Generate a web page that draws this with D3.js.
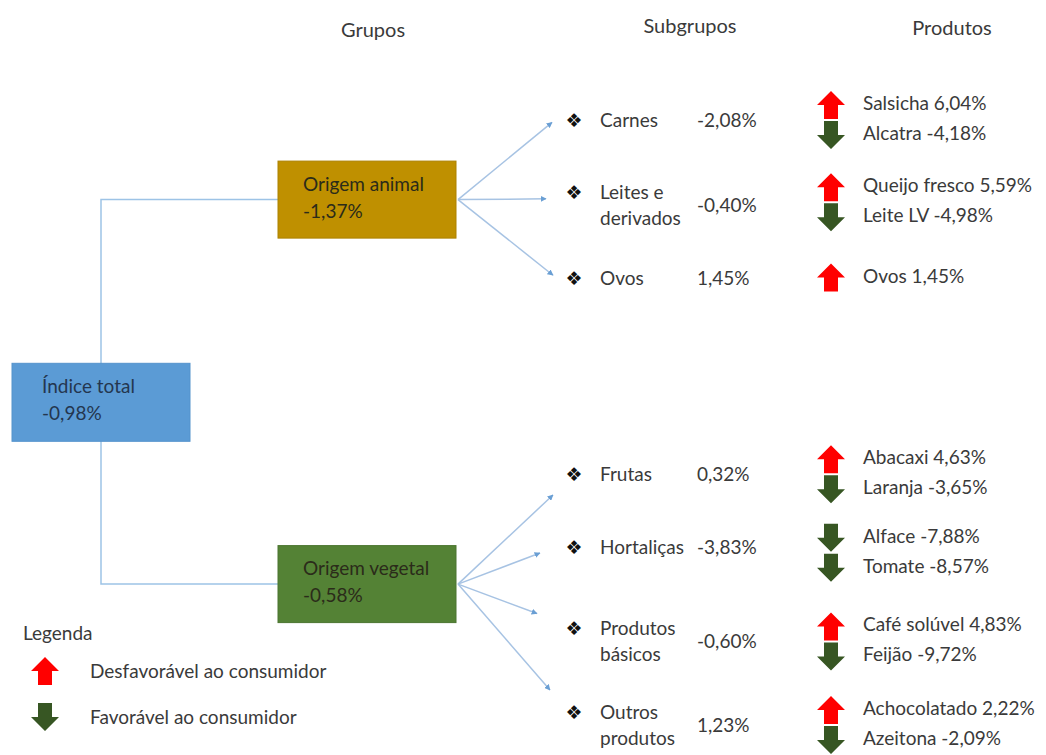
<!DOCTYPE html>
<html>
<head>
<meta charset="utf-8">
<script src="https://cdn.jsdelivr.net/npm/d3@7"></script>
<style>
  body { margin: 0; background: #fff; }
  text { font-family: Lato, "Open Sans", sans-serif; fill: #3a3a3a; }
</style>
</head>
<body>
<section id="chart"></section>
<script>
// ---- data ----
const headers = ["Grupos", "Subgrupos", "Produtos"];
const totalName = "Índice total";
const totalValue = -0.98;
const groupNames = ["Origem animal", "Origem vegetal"];
const groupValues = [-1.37, -0.58];
const groupColors = ["#BF9000", "#548235"];
const subgroupNames = [["Carnes"], ["Leites e", "derivados"], ["Ovos"], ["Frutas"], ["Hortaliças"], ["Produtos", "básicos"], ["Outros", "produtos"]];
const subgroupValues = [-2.08, -0.40, 1.45, 0.32, -3.83, -0.60, 1.23];
const subgroupGroup = [0, 0, 0, 1, 1, 1, 1];
const productNames = ["Salsicha", "Alcatra", "Queijo fresco", "Leite LV", "Ovos", "Abacaxi", "Laranja", "Alface", "Tomate", "Café solúvel", "Feijão", "Achocolatado", "Azeitona"];
const productValues = [6.04, -4.18, 5.59, -4.98, 1.45, 4.63, -3.65, -7.88, -8.57, 4.83, -9.72, 2.22, -2.09];
const productSubgroup = [0, 0, 1, 1, 2, 3, 3, 4, 4, 5, 5, 6, 6];
const legendLabels = ["Desfavorável ao consumidor", "Favorável ao consumidor"];
const legendTitle = "Legenda";

// ---- layout (row units on a vertical scale) ----
const subgroupRow = [0, 1.07, 1.98, 4.45, 5.36, 6.55, 7.6];
const productShift = [0, -3, 0, 0, 6, 0, 0];
const tipRow = [0.03, 0.99, 1.95, 4.71, 5.44, 6.2, 7.16];
const tipX = [552, 546, 553, 553, 540, 537, 550];
const groupRow = [1.0, 5.83];
const totalRow = 3.54;

const width = 1046, height = 755;
const y = d3.scaleLinear().domain([0, 7.6]).range([120, 725]);
const x = d3.scaleOrdinal()
  .domain(["total", "group", "bullet", "name", "value", "arrow", "product"])
  .range([12, 278, 574, 600, 697, 831, 863]);
const boxW = 178, boxH = 77, font = 19;

const pt = d3.formatLocale({ decimal: ",", thousands: ".", grouping: [3], currency: ["", ""], minus: "-" });
const pct = function (v) { return pt.format(".2f")(v) + "%"; };

const svg = d3.select("#chart").append("svg")
  .attr("width", width).attr("height", height);

svg.append("defs").append("marker")
  .attr("id", "tip").attr("viewBox", "0 0 10 10")
  .attr("refX", 9).attr("refY", 5)
  .attr("markerWidth", 4).attr("markerHeight", 4)
  .attr("orient", "auto")
  .append("path").attr("d", "M0,0L10,5L0,10z").attr("fill", "#6A9FD4");

// block arrow, up or down
const blockArrow = function (cx, cy, up) {
  const w = 28, h = 28, sw = 14, hh = 14;
  const s = up ? 1 : -1;
  const p = d3.path();
  p.moveTo(cx, cy - s * h / 2);
  p.lineTo(cx + w / 2, cy - s * (h / 2 - hh));
  p.lineTo(cx + sw / 2, cy - s * (h / 2 - hh));
  p.lineTo(cx + sw / 2, cy + s * h / 2);
  p.lineTo(cx - sw / 2, cy + s * h / 2);
  p.lineTo(cx - sw / 2, cy - s * (h / 2 - hh));
  p.lineTo(cx - w / 2, cy - s * (h / 2 - hh));
  p.closePath();
  return p.toString();
};
const arrowColor = function (up) { return up ? "#FF0000" : "#375623"; };

// headers
const headerX = [373, 690, 952];
const headerY = [37, 33, 35];
svg.selectAll("text.header").data(headers).enter().append("text")
  .attr("class", "header")
  .attr("x", function (d, i) { return headerX[i]; })
  .attr("y", function (d, i) { return headerY[i]; })
  .attr("text-anchor", "middle")
  .style("font-size", "20px")
  .text(function (d) { return d; });

// elbow connectors from the total box
const lineColor = "#9DC3E6";
const elbowX = x("total") + 89;
svg.selectAll("path.elbow").data(groupRow).enter().append("path")
  .attr("class", "elbow")
  .attr("d", function (r) { return "M" + x("group") + "," + y(r) + "H" + elbowX + "V" + y(totalRow); })
  .attr("fill", "none").attr("stroke", lineColor).attr("stroke-width", 1.5);

// total box
const total = svg.append("g");
total.append("rect")
  .attr("x", x("total")).attr("y", y(totalRow) - boxH / 2)
  .attr("width", boxW).attr("height", boxH + 1)
  .attr("fill", "#5B9BD5").attr("stroke", "#5593cc");
total.append("text").attr("x", x("total") + 30).attr("y", y(totalRow) - 9)
  .style("font-size", font + "px").style("fill", "#24364f").text(totalName);
total.append("text").attr("x", x("total") + 30).attr("y", y(totalRow) + 18)
  .style("font-size", font + "px").style("fill", "#24364f").text(pct(totalValue));

// group boxes
const groups = svg.selectAll("g.group").data(groupNames).enter().append("g").attr("class", "group");
groups.append("rect")
  .attr("x", x("group")).attr("y", function (d, i) { return y(groupRow[i]) - boxH / 2; })
  .attr("width", boxW).attr("height", boxH)
  .attr("fill", function (d, i) { return groupColors[i]; })
  .attr("stroke", function (d, i) { return d3.color(groupColors[i]).darker(0.3); });
groups.append("text")
  .attr("x", x("group") + 25).attr("y", function (d, i) { return y(groupRow[i]) - 9; })
  .style("font-size", font + "px").style("fill", "#2b2b1a")
  .text(function (d) { return d; });
groups.append("text")
  .attr("x", x("group") + 25).attr("y", function (d, i) { return y(groupRow[i]) + 18; })
  .style("font-size", font + "px").style("fill", "#2b2b1a")
  .text(function (d, i) { return pct(groupValues[i]); });

// fan arrows to subgroups
svg.selectAll("line.fan").data(subgroupValues).enter().append("line")
  .attr("class", "fan")
  .attr("x1", x("group") + boxW + 2)
  .attr("y1", function (d, i) { return y(groupRow[subgroupGroup[i]]); })
  .attr("x2", function (d, i) { return tipX[i]; })
  .attr("y2", function (d, i) { return y(tipRow[i]); })
  .attr("stroke", "#A7C3E3").attr("stroke-width", 1.5)
  .attr("marker-end", "url(#tip)");

// subgroups
const subs = svg.selectAll("g.sub").data(subgroupNames).enter().append("g").attr("class", "sub");
subs.each(function (lines, i) {
  const g = d3.select(this);
  const cy = y(subgroupRow[i]);
  const top = cy - (lines.length - 1) * 13;
  g.append("text").attr("x", x("bullet")).attr("y", top + 7)
    .attr("text-anchor", "middle")
    .style("font-family", "DejaVu Sans").style("font-size", "19px").style("fill", "#111")
    .text("❖");
  lines.forEach(function (l, k) {
    g.append("text").attr("x", x("name")).attr("y", top + 7 + k * 26)
      .style("font-size", font + "px").text(l);
  });
  g.append("text").attr("x", x("value")).attr("y", cy + 7)
    .style("font-size", font + "px").text(pct(subgroupValues[i]));
});

// products
const productY = function (i) {
  const s = productSubgroup[i];
  const members = productSubgroup.filter(function (v) { return v === s; }).length;
  const k = productSubgroup.slice(0, i).filter(function (v) { return v === s; }).length;
  return y(subgroupRow[s]) + (k - (members - 1) / 2) * 30 - 2 + productShift[s];
};
const prods = svg.selectAll("g.prod").data(productNames).enter().append("g").attr("class", "prod");
prods.append("path")
  .attr("d", function (d, i) { return blockArrow(x("arrow"), productY(i) + 2, productValues[i] > 0); })
  .attr("fill", function (d, i) { return arrowColor(productValues[i] > 0); });
prods.append("text")
  .attr("x", x("product")).attr("y", function (d, i) { return productY(i) + 7; })
  .style("font-size", font + "px")
  .text(function (d, i) { return d + " " + pct(productValues[i]); });

// legend
svg.append("text").attr("x", 23).attr("y", 640)
  .style("font-size", font + "px").text(legendTitle);
const legend = svg.selectAll("g.legend").data(legendLabels).enter().append("g").attr("class", "legend")
  .attr("transform", function (d, i) { return "translate(0," + (671 + i * 46) + ")"; });
legend.append("path")
  .attr("d", function (d, i) { return blockArrow(45, 0, i === 0); })
  .attr("fill", function (d, i) { return arrowColor(i === 0); });
legend.append("text").attr("x", 90).attr("y", 7)
  .style("font-size", font + "px").text(function (d) { return d; });
</script>
</body>
</html>
